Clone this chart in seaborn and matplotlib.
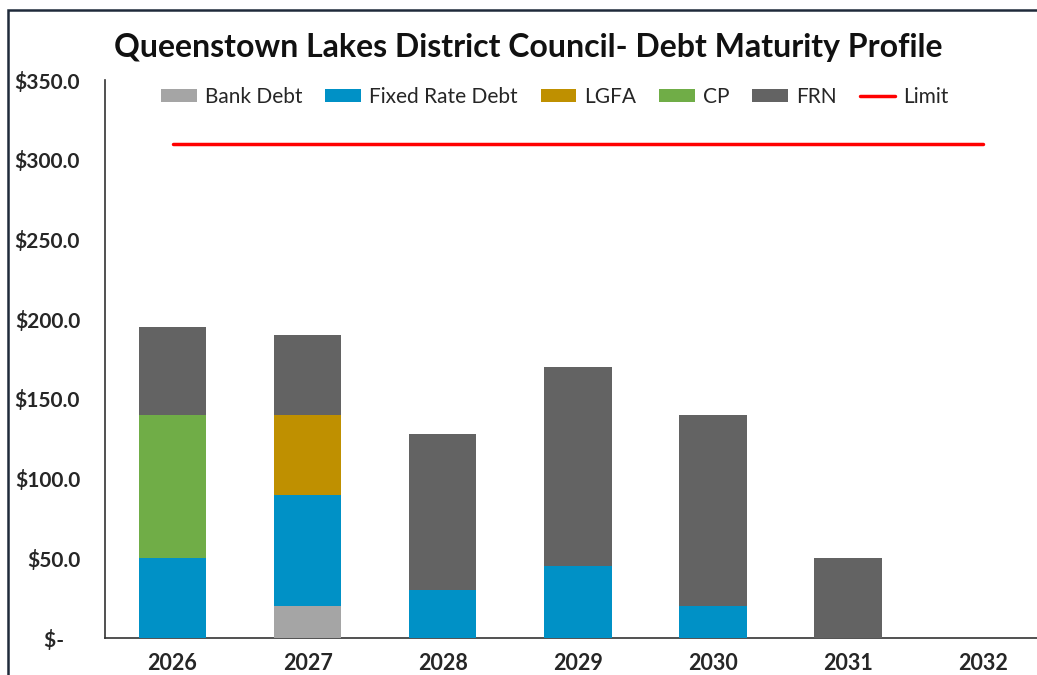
import matplotlib
matplotlib.use("Agg")
import matplotlib.pyplot as plt
import seaborn as sns
import numpy as np
import pandas as pd
from matplotlib.patches import Patch, Rectangle
from matplotlib.lines import Line2D

years = ["2026", "2027", "2028", "2029", "2030", "2031", "2032"]
bank_debt = [0, 20, 0, 0, 0, 0, 0]
fixed_rate_debt = [50, 70, 30, 45, 20, 0, 0]
lgfa = [0, 50, 0, 0, 0, 0, 0]
cp = [90, 0, 0, 0, 0, 0, 0]
frn = [55, 50, 98, 125, 120, 50, 0]
limit = [310, 310, 310, 310, 310, 310, 310]

series_names = ["Bank Debt", "Fixed Rate Debt", "LGFA", "CP", "FRN"]
series_vals = [bank_debt, fixed_rate_debt, lgfa, cp, frn]
colors = ["#A5A5A5", "#0091C6", "#BF9000", "#70AD47", "#636363"]
limit_color = "#FF0000"
yticks = [0, 50, 100, 150, 200, 250, 300, 350]
ytick_labels = ["$-   ", "$50.0", "$100.0", "$150.0", "$200.0", "$250.0", "$300.0", "$350.0"]

sns.set_theme(style="white")
plt.rcParams["font.family"] = ["Lato", "DejaVu Sans"]

fig = plt.figure(figsize=(10.37, 6.75), dpi=100)
ax = fig.add_axes([105 / 1037, 37 / 675, (1037 - 105) / 1037, (638 - 80) / 675])

cum = np.cumsum(np.array(series_vals, dtype=float), axis=0)
df = pd.DataFrame({"year": years})
# draw from the tallest cumulative layer down so lower layers overlay
for i in range(len(series_names) - 1, -1, -1):
    df["v"] = cum[i]
    sns.barplot(data=df, x="year", y="v", color=colors[i], width=0.5,
                saturation=1, ax=ax, zorder=2 + (len(series_names) - i),
                linewidth=0, order=years)

sns.lineplot(x=np.arange(len(years)), y=limit, color=limit_color, linewidth=2.5,
             ax=ax, zorder=10)

ax.set_ylim(0, 350)
ax.set_xlim(-0.5, 6.4)
ax.set_yticks(yticks)
ax.set_yticklabels(ytick_labels, fontsize=15, fontweight="bold")
ax.set_xticks(range(len(years)))
ax.set_xticklabels(years, fontsize=15.5, fontweight="bold")
ax.tick_params(axis="x", length=0, pad=11)
ax.tick_params(axis="y", length=0, pad=18)
ax.set_xlabel("")
ax.set_ylabel("")
for s in ["top", "right"]:
    ax.spines[s].set_visible(False)
for s in ["left", "bottom"]:
    ax.spines[s].set_color("#333333")
    ax.spines[s].set_linewidth(1.2)
ax.grid(False)

handles = [Patch(facecolor=c, edgecolor="none") for c in colors]
handles.append(Line2D([0], [0], color=limit_color, linewidth=2.5))
leg = ax.legend(handles, series_names + ["Limit"], ncol=6, frameon=False,
                loc="center", bbox_to_anchor=(555 / 1037, 1 - 97 / 675),
                bbox_transform=fig.transFigure, fontsize=15,
                handlelength=1.7, handleheight=0.55, handletextpad=0.4,
                columnspacing=1.1)

fig.text(528 / 1037, 1 - 47 / 675,
         "Queenstown Lakes District Council- Debt Maturity Profile",
         ha="center", va="center", fontsize=23, fontweight="bold",
         color="#111111")

fig.patches.append(Rectangle((8 / 1037, -0.1), 1.2, 1 - 10 / 675 + 0.1,
                             transform=fig.transFigure, fill=False,
                             edgecolor="#1F2A3A", linewidth=1.8))

fig.savefig("out.png", dpi=100)
